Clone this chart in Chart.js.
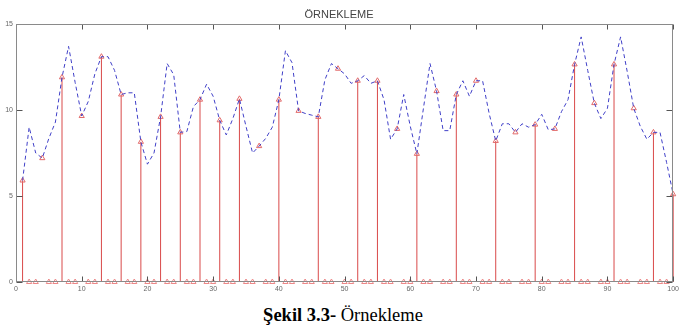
<!DOCTYPE html>
<html lang="tr">
<head>
<meta charset="UTF-8">
<title>Örnekleme</title>
<script src="https://cdn.jsdelivr.net/npm/chart.js"></script>
<style>
  body { margin: 0; background: #fff; width: 682px; height: 336px; overflow: hidden; position: relative; }
  #wrap { position: absolute; left: 0; top: 0; width: 682px; height: 300px; }
  #caption { position: absolute; left: 2px; width: 682px; top: 305px; text-align: center;
             font-family: "Liberation Serif", "Times New Roman", serif; font-size: 18.5px; color: #000; }
</style>
</head>
<body>
<div id="wrap"><canvas id="chart"></canvas></div>
<div id="caption"><b>Şekil 3.3-</b> Örnekleme</div>

<script>
// original signal, one value per x = 1..100
const signal = [
  5.9, 9.0, 7.5, 7.2, 8.35, 9.3, 11.9, 13.7, 11.6, 9.65,
  10.5, 12.1, 13.1, 13.1, 12.3, 10.9, 11.0, 11.0, 8.15, 6.85,
  7.5, 9.6, 12.7, 12.05, 8.7, 8.75, 10.2, 10.6, 11.5, 10.8,
  9.4, 8.55, 9.5, 10.65, 9.05, 7.5, 7.9, 8.35, 9.0, 10.6,
  13.45, 12.75, 9.95, 9.8, 9.7, 9.6, 11.75, 12.7, 12.4, 12.1,
  11.55, 11.7, 12.0, 11.55, 11.7, 10.6, 8.3, 8.9, 10.9, 9.05,
  7.45, 10.1, 12.7, 11.1, 8.8, 8.8, 10.9, 11.7, 10.8, 11.7,
  11.7, 9.8, 8.2, 9.2, 9.2, 8.7, 9.2, 9.0, 9.15, 9.75,
  8.85, 8.9, 9.9, 10.6, 12.65, 14.25, 12.3, 10.4, 9.5, 10.1,
  12.65, 14.25, 12.25, 10.1, 9.05, 8.3, 8.7, 8.7, 6.95, 5.1
];

// sampled positions (every third sample keeps its value)
const sampleX = [1, 4, 7, 10, 13, 16, 19, 22, 25, 28, 31, 34, 37, 40, 43, 46, 49,
                 52, 55, 58, 61, 64, 67, 70, 73, 76, 79, 82, 85, 88, 91, 94, 97, 100];

// stems that are visible in the figure
const stemX = [1, 7, 13, 16, 19, 22, 25, 28, 31, 34, 40, 46, 52, 55, 61, 67, 73, 79, 85, 91, 97, 100];

// positions set to zero
const zeroX = [2, 3, 5, 6, 8, 9, 11, 12, 14, 15, 17, 18, 20, 21, 23, 24, 26, 27, 29, 30,
               32, 33, 35, 36, 38, 39, 41, 42, 44, 45, 47, 48, 50, 51, 53, 54, 56, 57,
               59, 60, 62, 63, 65, 66, 68, 69, 71, 72, 74, 75, 77, 78, 80, 81, 83, 84,
               86, 87, 89, 90, 92, 93, 95, 96, 98, 99];

const xTicks = [0, 10, 20, 30, 40, 50, 60, 70, 80, 90, 100];
const yTicks = [0, 5, 10, 15];

const curve = signal.map((v, i) => ({ x: i + 1, y: v }));
const samples = sampleX.map(x => ({ x: x, y: signal[x - 1] }));
const zeros = zeroX.map(x => ({ x: x, y: 0 }));
const stems = [];
stemX.forEach(x => {
  stems.push({ x: x, y: 0 }, { x: x, y: signal[x - 1] }, { x: x, y: null });
});

// box around the plot with inward tick marks, like the matlab axes
const frame = {
  id: 'frame',
  afterDraw(chart) {
    const a = chart.chartArea, ctx = chart.ctx;
    const xs = chart.scales.x, ys = chart.scales.y;
    const l = Math.round(a.left) + 0.5, r = Math.round(a.right) - 0.5;
    const t = Math.round(a.top) + 0.5, b = Math.round(a.bottom) - 0.5;
    ctx.save();
    ctx.lineWidth = 1;
    ctx.strokeStyle = '#555';
    ctx.beginPath();
    xTicks.forEach(v => {
      const px = Math.round(xs.getPixelForValue(v)) + 0.5;
      ctx.moveTo(px, t); ctx.lineTo(px, t + 5);
      ctx.moveTo(px, b); ctx.lineTo(px, b - 5);
    });
    yTicks.forEach(v => {
      const py = Math.round(ys.getPixelForValue(v)) + 0.5;
      ctx.moveTo(l, py); ctx.lineTo(l + 6, py);
      ctx.moveTo(r, py); ctx.lineTo(r - 6, py);
    });
    ctx.stroke();
    ctx.strokeStyle = '#8a8a8a';
    ctx.strokeRect(l, t, r - l, b - t);
    ctx.restore();
  }
};

new Chart(document.getElementById('chart'), {
  type: 'line',
  data: {
    datasets: [
      {
        data: stems,
        borderColor: '#d94a4a',
        borderWidth: 1,
        pointRadius: 0,
        spanGaps: false,
        clip: false,
        order: 3
      },
      {
        data: curve,
        borderColor: '#4040c8',
        borderWidth: 1,
        borderDash: [4, 3],
        pointRadius: 0,
        tension: 0,
        clip: false,
        order: 1
      },
      {
        data: samples,
        showLine: false,
        pointStyle: 'triangle',
        pointRadius: 3,
        pointBorderWidth: 1,
        pointBorderColor: '#e26a6a',
        pointBackgroundColor: 'rgba(255,255,255,0)',
        clip: false,
        order: 2
      },
      {
        data: zeros,
        showLine: false,
        pointStyle: 'triangle',
        pointRadius: 3,
        pointBorderWidth: 1,
        pointBorderColor: '#ec8888',
        pointBackgroundColor: 'rgba(255,255,255,0)',
        clip: false,
        order: 2
      }
    ]
  },
  options: {
    responsive: true,
    maintainAspectRatio: false,
    animation: false,
    layout: { padding: { left: 0, right: 4, top: 0, bottom: 0 } },
    scales: {
      x: {
        type: 'linear',
        min: 0,
        max: 100,
        afterBuildTicks: s => { s.ticks = xTicks.map(v => ({ value: v })); },
        afterFit: s => { s.height = 18; },
        grid: { display: false, drawTicks: false },
        border: { display: false },
        ticks: { padding: 3, maxRotation: 0, autoSkip: false, color: '#666',
                 font: { family: 'Liberation Sans, Arial, sans-serif', size: 7 } }
      },
      y: {
        type: 'linear',
        min: 0,
        max: 15,
        afterBuildTicks: s => { s.ticks = yTicks.map(v => ({ value: v })); },
        afterFit: s => { s.width = 16; },
        grid: { display: false, drawTicks: false },
        border: { display: false },
        ticks: { padding: 3, color: '#666',
                 font: { family: 'Liberation Sans, Arial, sans-serif', size: 7 } }
      }
    },
    plugins: {
      legend: { display: false },
      tooltip: { enabled: false },
      title: {
        display: true,
        text: 'ÖRNEKLEME',
        color: '#444',
        font: { family: 'Liberation Sans, Arial, sans-serif', size: 11, weight: 'normal' },
        padding: { top: 8, bottom: 2.8 }
      }
    }
  },
  plugins: [frame]
});
</script>
</body>
</html>
